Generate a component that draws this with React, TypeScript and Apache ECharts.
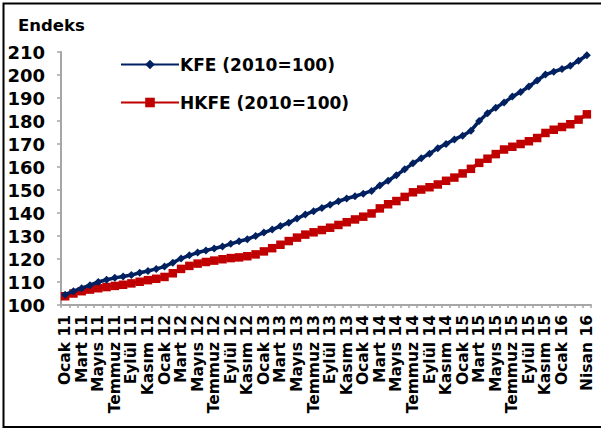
import React, { useEffect, useRef } from "react";
import * as echarts from "echarts";

const MONTHS = ["Ocak", "Şubat", "Mart", "Nisan", "Mayıs", "Haziran", "Temmuz", "Ağustos", "Eylül", "Ekim", "Kasım", "Aralık"];
const YEARS = ["11", "12", "13", "14", "15", "16"];

const categories: string[] = [];
YEARS.forEach((y) => {
  MONTHS.forEach((m, mi) => {
    if (y === "16" && mi > 3) return;
    categories.push(m + " " + y);
  });
});

const kfe = [
  104.5, 106.0, 107.3, 108.6, 110.0, 111.0, 111.8, 112.4, 113.0, 114.0, 114.8, 115.7,
  116.7, 118.4, 120.2, 121.6, 122.8, 123.7, 124.6, 125.4, 126.6, 127.7, 128.6, 130.0,
  131.5, 132.8, 134.3, 135.8, 137.6, 139.3, 140.8, 142.2, 143.6, 145.1, 146.3, 147.3,
  148.4, 149.6, 152.0, 154.0, 156.4, 159.0, 161.6, 163.8, 165.8, 168.2, 170.0, 172.0,
  173.6, 175.8, 180.0, 183.4, 185.8, 188.0, 190.6, 192.6, 195.0, 197.6, 200.2, 201.4,
  202.6, 204.0, 206.2, 208.6,
];

const hkfe = [
  103.8, 105.0, 106.0, 106.7, 107.3, 107.8, 108.3, 108.8, 109.4, 110.1, 110.8, 111.4,
  112.2, 113.8, 115.7, 117.0, 118.0, 118.7, 119.3, 119.9, 120.4, 120.7, 121.2, 122.0,
  123.3, 124.7, 126.2, 127.8, 129.3, 130.6, 131.6, 132.6, 133.6, 134.8, 136.0, 137.2,
  138.4, 139.8, 142.0, 143.8, 145.2, 147.0, 149.0, 150.2, 151.2, 152.4, 154.0, 155.4,
  157.2, 159.2, 161.8, 163.6, 165.6, 167.6, 168.8, 170.0, 171.2, 172.6, 174.8, 176.2,
  177.4, 178.6, 180.6, 182.9,
];

const seriesNames = ["KFE (2010=100)", "HKFE (2010=100)"];
const FONT = "DejaVu Sans";

export default function App() {
  const ref = useRef<HTMLDivElement>(null);
  useEffect(() => {
    if (!ref.current) return;
    const chart = echarts.init(ref.current, undefined, { renderer: "svg" });
    const last = categories.length - 1;
    chart.setOption({
      animation: false,
      backgroundColor: "#ffffff",
      grid: { left: 61, right: 10, top: 52, bottom: 125 },
      title: {
        text: "Endeks",
        left: 13,
        top: 12,
        textStyle: { fontFamily: FONT, fontSize: 16.5, fontWeight: "bold", color: "#000" },
      },
      legend: {
        orient: "vertical",
        left: 115,
        top: 51,
        itemWidth: 58,
        itemHeight: 12,
        itemGap: 21,
        textStyle: { fontFamily: FONT, fontSize: 17, fontWeight: "bold", color: "#000", padding: [0, 0, 0, -4] },
        data: seriesNames,
      },
      xAxis: {
        type: "category",
        data: categories,
        boundaryGap: true,
        axisLine: { lineStyle: { color: "#A6A6A6", width: 2 } },
        axisTick: { show: true, interval: 0, length: 3, lineStyle: { color: "#A6A6A6", width: 1.5 } },
        axisLabel: {
          rotate: 90,
          margin: 10,
          interval: (i: number) => (i % 2 === 0 && i <= 60) || i === last,
          fontFamily: FONT,
          fontSize: 15.5,
          fontWeight: "bold",
          color: "#000",
        },
        splitLine: { show: false },
      },
      yAxis: {
        type: "value",
        min: 100,
        max: 210,
        interval: 10,
        axisLine: { show: true, lineStyle: { color: "#A6A6A6", width: 2 } },
        axisTick: { show: true, length: 4, lineStyle: { color: "#A6A6A6", width: 1.5 } },
        axisLabel: {
          margin: 16,
          fontFamily: FONT,
          fontSize: 18,
          fontWeight: "bold",
          color: "#000",
        },
        splitLine: { show: false },
      },
      series: [
        {
          name: seriesNames[0],
          type: "line",
          data: kfe,
          symbol: "diamond",
          symbolSize: 8,
          showSymbol: true,
          showAllSymbol: true,
          lineStyle: { color: "#002060", width: 3.5 },
          itemStyle: { color: "#002060" },
          z: 3,
        },
        {
          name: seriesNames[1],
          type: "line",
          data: hkfe,
          symbol: "rect",
          symbolSize: 8.5,
          showSymbol: true,
          showAllSymbol: true,
          lineStyle: { color: "#C00000", width: 3.5 },
          itemStyle: { color: "#C00000" },
          z: 2,
        },
      ],
      graphic: [
        {
          type: "rect",
          shape: { x: 3.5, y: 3.5, width: 599, height: 423.5 },
          style: { fill: "none", stroke: "#000", lineWidth: 2 },
          z: 10,
          silent: true,
        },
      ],
    });
    return () => chart.dispose();
  }, []);
  return (
    <div
      ref={ref}
      style={{ position: "fixed", left: 0, top: 0, width: 601, height: 430 }}
    />
  );
}
